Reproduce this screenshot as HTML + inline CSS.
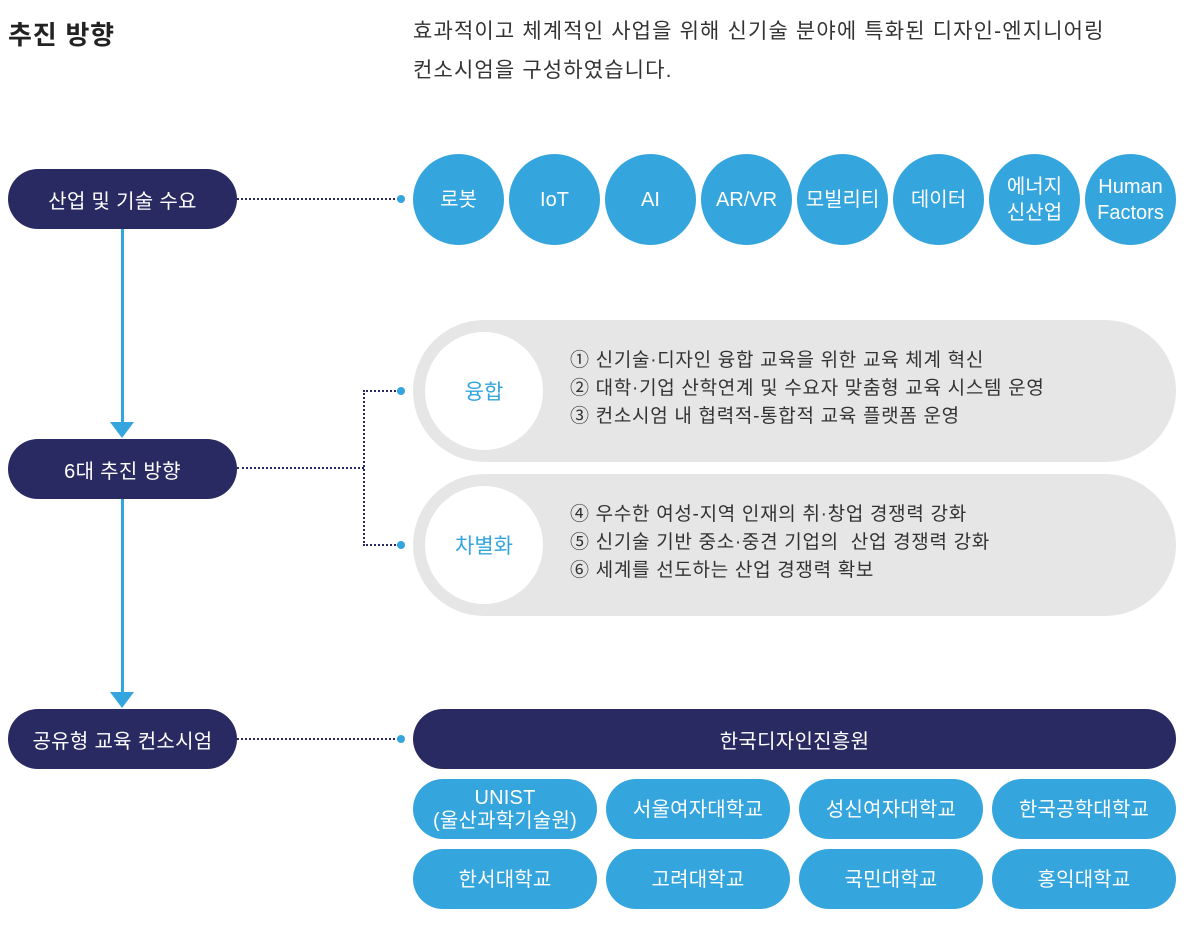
<!DOCTYPE html>
<html><head><meta charset="utf-8"><style>
*{margin:0;padding:0;box-sizing:border-box}
body{width:1191px;height:952px;background:#fff;position:relative;font-family:"Liberation Sans","Noto Sans CJK KR",sans-serif;overflow:hidden}
.a{position:absolute}
.navy{background:#2a2a62;color:#fff;border-radius:30px;display:flex;align-items:center;justify-content:center;font-size:20px;letter-spacing:0.3px}
.c{background:#35a5de;color:#fff;border-radius:50%;width:91px;height:91px;display:flex;align-items:center;justify-content:center;text-align:center;font-size:20px;line-height:26px}
.b{background:#35a5de;color:#fff;border-radius:30px;display:flex;align-items:center;justify-content:center;text-align:center;font-size:20px;line-height:23px;width:184px;height:60px;letter-spacing:0.2px;padding-top:2px}
.g{background:#e6e6e6;border-radius:72px;left:413px;width:763px;height:142px}
.w{background:#fff;border-radius:50%;width:118px;height:118px;left:12px;top:12px;display:flex;align-items:center;justify-content:center;color:#35a5de;font-size:21px}
.t{left:157px;top:27px;font-size:19px;line-height:28px;color:#333;letter-spacing:0.7px;white-space:nowrap}
.dot{width:8px;height:8px;border-radius:50%;background:#35a5de}
.hd{border-top:2px dotted #2a2a62;height:0}
.vd{border-left:2px dotted #2a2a62;width:0}
</style></head><body>
<div class="a" style="left:8px;top:15px;font-size:26px;font-weight:bold;color:#222;letter-spacing:0.8px">추진 방향</div>
<div class="a" style="left:413px;top:12px;font-size:21px;line-height:39px;color:#333;letter-spacing:1.15px;white-space:nowrap">효과적이고 체계적인 사업을 위해 신기술 분야에 특화된 디자인-엔지니어링<br>컨소시엄을 구성하였습니다.</div>

<div class="a navy" style="left:8px;top:169px;width:229px;height:60px">산업 및 기술 수요</div>
<div class="a navy" style="left:8px;top:439px;width:229px;height:60px">6대 추진 방향</div>
<div class="a navy" style="left:8px;top:709px;width:229px;height:60px">공유형 교육 컨소시엄</div>

<div class="a" style="left:121px;top:229px;width:3px;height:196px;background:#35a5de"></div>
<div class="a" style="left:110px;top:422px;border-left:12px solid transparent;border-right:12px solid transparent;border-top:16px solid #35a5de"></div>
<div class="a" style="left:121px;top:499px;width:3px;height:196px;background:#35a5de"></div>
<div class="a" style="left:110px;top:692px;border-left:12px solid transparent;border-right:12px solid transparent;border-top:16px solid #35a5de"></div>

<div class="a hd" style="left:237px;top:198px;width:162px"></div>
<div class="a dot" style="left:397px;top:195px"></div>
<div class="a hd" style="left:237px;top:467px;width:127px"></div>
<div class="a vd" style="left:363px;top:390px;height:156px"></div>
<div class="a hd" style="left:363px;top:390px;width:36px"></div>
<div class="a hd" style="left:363px;top:544px;width:36px"></div>
<div class="a dot" style="left:397px;top:387px"></div>
<div class="a dot" style="left:397px;top:541px"></div>
<div class="a hd" style="left:237px;top:738px;width:162px"></div>
<div class="a dot" style="left:397px;top:735px"></div>

<div class="a c" style="left:413px;top:154px">로봇</div>
<div class="a c" style="left:509px;top:154px">IoT</div>
<div class="a c" style="left:605px;top:154px">AI</div>
<div class="a c" style="left:701px;top:154px">AR/VR</div>
<div class="a c" style="left:797px;top:154px">모빌리티</div>
<div class="a c" style="left:893px;top:154px">데이터</div>
<div class="a c" style="left:989px;top:154px">에너지<br>신산업</div>
<div class="a c" style="left:1085px;top:154px">Human<br>Factors</div>

<div class="a g" style="top:320px"><div class="a w">융합</div>
<div class="a t">① 신기술·디자인 융합 교육을 위한 교육 체계 혁신<br>② 대학·기업 산학연계 및 수요자 맞춤형 교육 시스템 운영<br>③ 컨소시엄 내 협력적-통합적 교육 플랫폼 운영</div></div>
<div class="a g" style="top:474px"><div class="a w">차별화</div>
<div class="a t">④ 우수한 여성-지역 인재의 취·창업 경쟁력 강화<br>⑤ 신기술 기반 중소·중견 기업의&nbsp; 산업 경쟁력 강화<br>⑥ 세계를 선도하는 산업 경쟁력 확보</div></div>

<div class="a navy" style="left:413px;top:709px;width:763px;height:60px">한국디자인진흥원</div>
<div class="a b" style="left:413px;top:779px">UNIST<br>(울산과학기술원)</div>
<div class="a b" style="left:606px;top:779px">서울여자대학교</div>
<div class="a b" style="left:799px;top:779px">성신여자대학교</div>
<div class="a b" style="left:992px;top:779px">한국공학대학교</div>
<div class="a b" style="left:413px;top:849px">한서대학교</div>
<div class="a b" style="left:606px;top:849px">고려대학교</div>
<div class="a b" style="left:799px;top:849px">국민대학교</div>
<div class="a b" style="left:992px;top:849px">홍익대학교</div>
</body></html>
